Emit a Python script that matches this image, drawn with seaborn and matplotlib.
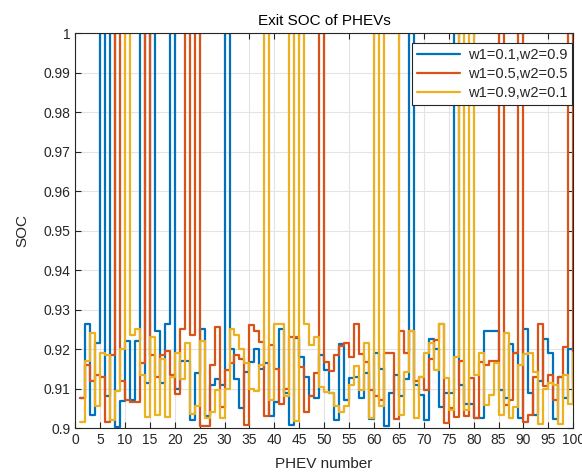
import numpy as np
import pandas as pd
import matplotlib
matplotlib.use("Agg")
import matplotlib.pyplot as plt
import seaborn as sns

phev = list(range(1, 101))

soc_w1_01 = [
    0.9075, 0.9263, 0.9033, 0.9216, 1.0, 0.908, 1.0, 0.9003, 0.9068, 0.922,
    0.907, 0.922, 1.0, 0.9115, 1.0, 0.9246, 0.9115, 0.9263, 1.0, 0.910,
    0.917, 0.917, 0.902, 0.914, 0.925, 0.903, 0.911, 0.9125, 0.911, 1.0,
    0.920, 0.9125, 0.905, 0.9143, 0.9168, 0.920, 0.915, 0.9165, 0.903, 0.9066,
    0.925, 0.909, 0.9008, 0.9227, 0.918, 0.913, 0.908, 0.9075, 0.9185, 0.9147,
    0.9088, 0.902, 0.9214, 0.907, 0.9128, 0.913, 0.9075, 0.914, 0.9024, 0.919,
    0.915, 0.9005, 0.909, 0.9134, 0.908, 0.9123, 1.0, 0.911, 0.9083, 0.902,
    0.9225, 0.920, 0.9054, 0.909, 0.909, 1.0, 0.911, 0.906, 0.906, 0.9025,
    0.9025, 0.9245, 0.9245, 0.9245, 0.9096, 0.9075, 0.9214, 0.919, 0.9025, 0.9252,
    0.909, 0.9033, 0.912, 0.9225, 0.919, 0.9022, 0.913, 0.9075, 0.920, 0.907,
]
soc_w1_05 = [
    0.9075, 0.916, 0.912, 0.9135, 0.913, 0.9016, 0.9185, 1.0, 0.912, 0.907,
    0.9065, 0.9065, 0.9165, 1.0, 0.9185, 0.913, 0.9185, 0.9195, 0.9135, 0.9085,
    0.925, 1.0, 0.9235, 1.0, 0.9005, 0.9005, 0.916, 0.9255, 0.9054, 0.9147,
    0.9164, 0.9185, 0.9176, 0.9008, 0.926, 0.9245, 0.9218, 0.903, 0.921, 0.915,
    0.906, 0.910, 0.923, 0.923, 0.9155, 0.904, 0.908, 0.914, 1.0, 0.9168,
    0.9145, 0.9185, 0.9208, 0.9216, 0.918, 0.9263, 0.9187, 0.9168, 0.9096, 0.908,
    0.907, 0.919, 0.919, 0.9022, 0.9245, 0.919, 0.9245, 0.912, 0.913, 0.9096,
    0.9176, 0.9223, 0.9263, 0.9013, 0.905, 0.9027, 0.917, 0.903, 0.9128, 0.9025,
    0.9168, 0.916, 0.917, 0.917, 1.0, 0.9058, 0.907, 0.919, 1.0, 0.9016,
    0.9033, 0.913, 0.9263, 0.9106, 0.9134, 0.907, 0.913, 0.9206, 1.0, 0.912,
]
soc_w1_09 = [
    0.9016, 0.917, 0.924, 0.9055, 0.919, 0.9185, 0.902, 0.9095, 0.920, 1.0,
    0.9235, 0.925, 0.9135, 0.9027, 0.923, 0.9033, 0.9176, 0.9027, 0.913, 0.919,
    0.9125, 0.9215, 0.9035, 0.9055, 0.922, 0.9025, 0.904, 0.9097, 0.9025, 0.910,
    0.925, 0.9235, 0.920, 0.9165, 0.910, 0.9095, 0.916, 1.0, 0.907, 0.9263,
    0.9263, 0.908, 1.0, 0.9019, 1.0, 0.9263, 0.921, 0.923, 0.9103, 0.9092,
    0.9088, 0.9056, 0.904, 0.9056, 0.911, 0.9157, 0.9096, 0.9216, 0.9025, 1.0,
    0.9056, 1.0, 1.0, 1.0, 0.9033, 0.9143, 0.9245, 0.9025, 0.913, 0.919,
    0.9215, 0.9147, 0.9263, 0.9126, 0.9045, 0.918, 1.0, 0.9045, 1.0, 0.9134,
    0.919, 0.9058, 0.9083, 0.9164, 0.9033, 0.924, 0.9025, 0.9054, 0.916, 0.9187,
    0.919, 0.9143, 0.901, 0.910, 0.9113, 0.911, 0.901, 0.9134, 0.9062, 0.919,
]

labels = ["w1=0.1,w2=0.9", "w1=0.5,w2=0.5", "w1=0.9,w2=0.1"]
colors = ["#0072BD", "#D95319", "#EDB120"]
x_ticks = list(range(0, 101, 5))
y_ticks = [0.90, 0.91, 0.92, 0.93, 0.94, 0.95, 0.96, 0.97, 0.98, 0.99, 1.00]
y_tick_labels = ["0.9", "0.91", "0.92", "0.93", "0.94", "0.95", "0.96", "0.97", "0.98", "0.99", "1"]

sns.set_style("ticks")
plt.rcParams["font.family"] = ["Liberation Sans", "DejaVu Sans"]

fig = plt.figure(figsize=(5.82, 4.73), dpi=100)
ax = fig.add_axes([0.129, 0.095, 0.856, 0.835])

for vals, lab, col in zip([soc_w1_01, soc_w1_05, soc_w1_09], labels, colors):
    df = pd.DataFrame({"PHEV": phev, "SOC": vals})
    sns.lineplot(data=df, x="PHEV", y="SOC", ax=ax, drawstyle="steps-post",
                 color=col, linewidth=1.6, label=lab)

ax.set_xlim(0, 100)
ax.set_ylim(0.9, 1.0)
ax.set_xticks(x_ticks)
ax.set_yticks(y_ticks)
ax.set_yticklabels(y_tick_labels)
ax.tick_params(direction="in", length=4, labelsize=10, colors="#262626",
               top=True, right=True)
ax.grid(True, color="#e3e3e3", linewidth=0.8)
for s in ax.spines.values():
    s.set_color("#262626")
    s.set_linewidth(0.8)
ax.set_title("Exit SOC of PHEVs", fontsize=11, pad=6, color="#000000")
ax.set_xlabel("PHEV number", fontsize=11, labelpad=7)
ax.set_ylabel("SOC", fontsize=11, labelpad=10)
leg = ax.legend(loc="upper right", bbox_to_anchor=(0.998, 0.975), fontsize=10.5,
                frameon=True, fancybox=False, borderaxespad=0.0, handlelength=3.0,
                borderpad=0.35, labelspacing=0.35, handletextpad=0.5)
leg.get_frame().set_edgecolor("#262626")
leg.get_frame().set_linewidth(0.8)
leg.get_frame().set_alpha(1)

fig.savefig("out.png", dpi=100)
